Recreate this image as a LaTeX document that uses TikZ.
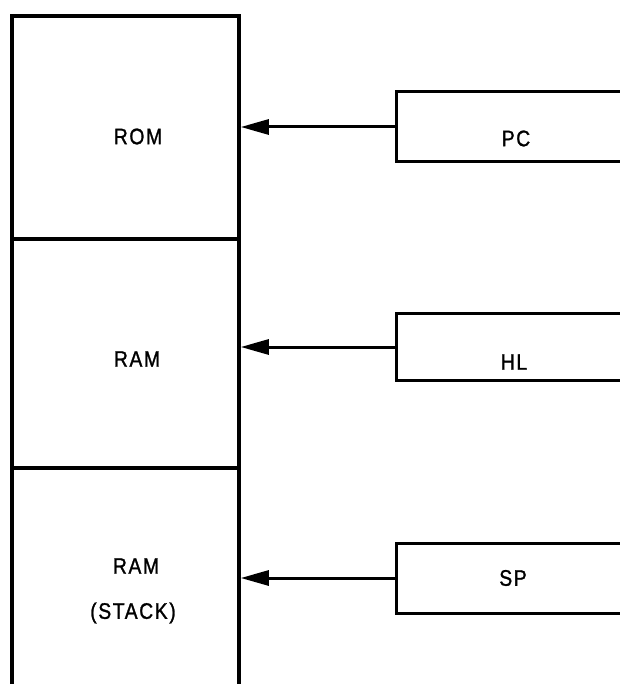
\documentclass[tikz,border=0pt]{standalone}
\usepackage{fontspec}
\newfontfamily\labfont[LetterSpace=7,FakeStretch=0.86,FakeBold=1.2]{Liberation Sans}
\usetikzlibrary{arrows.meta}
\begin{document}
\begin{tikzpicture}[x=1pt,y=-1pt,
  memcell/.style={draw,line width=3.8pt,minimum width=227pt,inner sep=0pt,anchor=north west},
  regbox/.style={draw,line width=3pt,minimum width=245pt,inner sep=0pt,anchor=west},
  lab/.style={font=\labfont\fontsize{22.5}{26}\selectfont,inner sep=0pt},
  conn/.style={line width=3pt,-{Triangle[length=28pt,width=15pt]}}]
\useasboundingbox (0,0) rectangle (619,684);
% memory column
\node[memcell,minimum height=223pt] (rom) at (10,14) {};
\node[memcell,minimum height=229pt] (ram) at (10,237) {};
\node[memcell,minimum height=224pt] (stk) at (10,466) {};
\node[lab] (romt) at (138,136.5) {ROM};
\node[lab] (ramt) at (137,359) {RAM};
\node[lab] (stkt1) at (136,566) {RAM};
\node[lab] (stkt2) at (133,613) {(STACK)};
% registers
\node[regbox,minimum height=70pt] (pc) at (395,127) {};
\node[regbox,minimum height=67pt] (hl) at (395,347) {};
\node[regbox,minimum height=70pt] (sp) at (395,578) {};
\node[lab] (pct) at (516,138.5) {PC};
\node[lab] (hlt) at (514,362) {HL};
\node[lab] (spt) at (513,578) {SP};
% connectors
\draw[conn] (pc.west) -- (pc.west -| rom.east);
\draw[conn] (hl.west) -- (hl.west -| ram.east);
\draw[conn] (sp.west) -- (sp.west -| stk.east);
\end{tikzpicture}
\end{document}
